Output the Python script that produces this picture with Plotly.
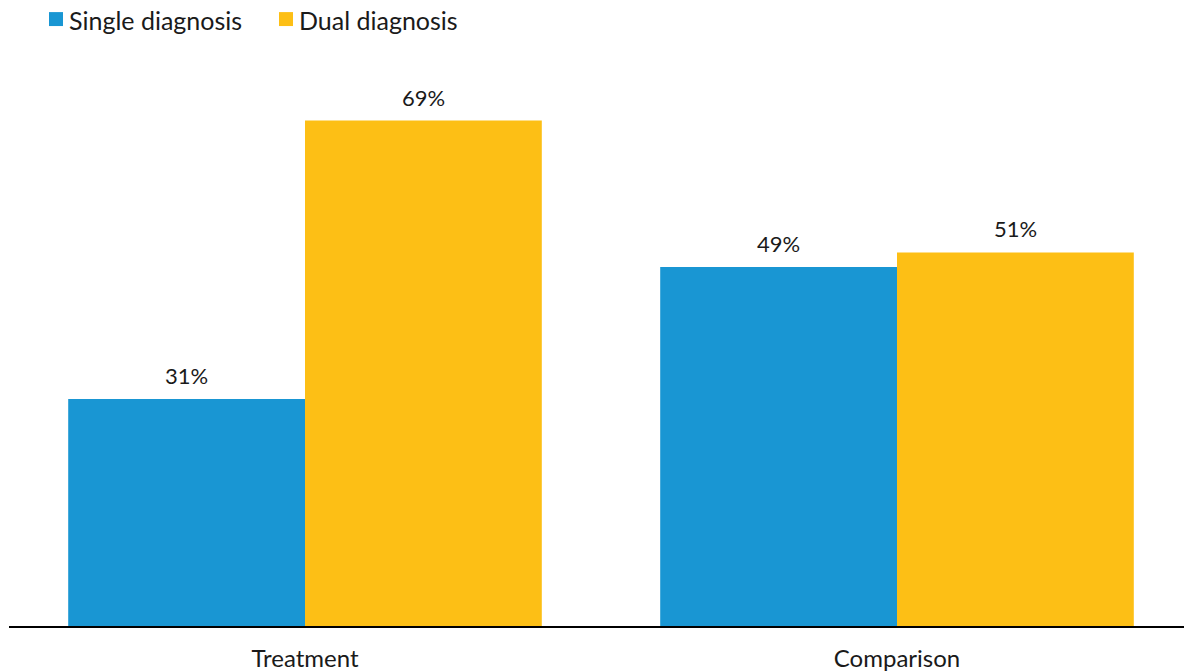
import plotly.graph_objects as go

categories = ["Treatment", "Comparison"]
single_diagnosis = [31, 49]
dual_diagnosis = [69, 51]

series_names = ["Single diagnosis", "Dual diagnosis"]
colors = ["#1996D3", "#FDBF15"]
font_family = "Lato, 'Open Sans', sans-serif"
text_color = "#1a1a1a"

W, H = 1184, 672
M_L, M_R, M_T, M_B = 9, 0, 40, 44
plot_w = W - M_L - M_R
plot_h = H - M_T - M_B


def px_x(p):
    return (p - M_L) / plot_w


def px_y(p):
    return (H - M_B - p) / plot_h


fig = go.Figure()
series = [single_diagnosis, dual_diagnosis]
for name, vals, col in zip(series_names, series, colors):
    fig.add_trace(go.Bar(
        x=categories,
        y=vals,
        name=name,
        marker=dict(color=col, line=dict(width=0)),
        showlegend=False,
        hoverinfo="x+y+name",
    ))

# value labels above each bar (bar offset within a group is +/- 0.2 category units)
annotations = []
offsets = [-0.2, 0.2]
for vals, off in zip(series, offsets):
    for i, v in enumerate(vals):
        annotations.append(dict(
            x=i + off, y=v, xref="x", yref="y",
            text=f"{v}%", showarrow=False,
            xanchor="center", yanchor="bottom", yshift=8,
            font=dict(size=22, color=text_color, family=font_family),
        ))

# legend row: coloured squares with their series names
legend_sq = [(49, 63), (279, 293)]
legend_tx = [67, 297]
shapes = []
for (x0, x1), tx, name, col in zip(legend_sq, legend_tx, series_names, colors):
    shapes.append(dict(
        type="rect", xref="paper", yref="paper",
        x0=px_x(x0), x1=px_x(x1), y0=px_y(26), y1=px_y(12),
        fillcolor=col, line=dict(width=0),
    ))
    annotations.append(dict(
        x=px_x(tx), y=px_y(20), xref="paper", yref="paper",
        text=name, showarrow=False, xanchor="left", yanchor="middle",
        font=dict(size=25, color=text_color, family=font_family),
    ))

fig.update_layout(
    width=W,
    height=H,
    barmode="group",
    bargap=0.2,
    bargroupgap=0,
    plot_bgcolor="white",
    paper_bgcolor="white",
    margin=dict(l=M_L, r=M_R, t=M_T, b=M_B),
    font=dict(family=font_family, size=24, color=text_color),
    showlegend=False,
    annotations=annotations,
    shapes=shapes,
    xaxis=dict(
        range=[-0.5, 1.4848],
        showline=True,
        linecolor="black",
        linewidth=2,
        ticks="",
        ticklabelstandoff=10,
        showgrid=False,
        tickfont=dict(size=24, color=text_color),
    ),
    yaxis=dict(
        range=[0, 80],
        visible=False,
        showgrid=False,
        zeroline=False,
    ),
)

fig.write_html("out.html")
